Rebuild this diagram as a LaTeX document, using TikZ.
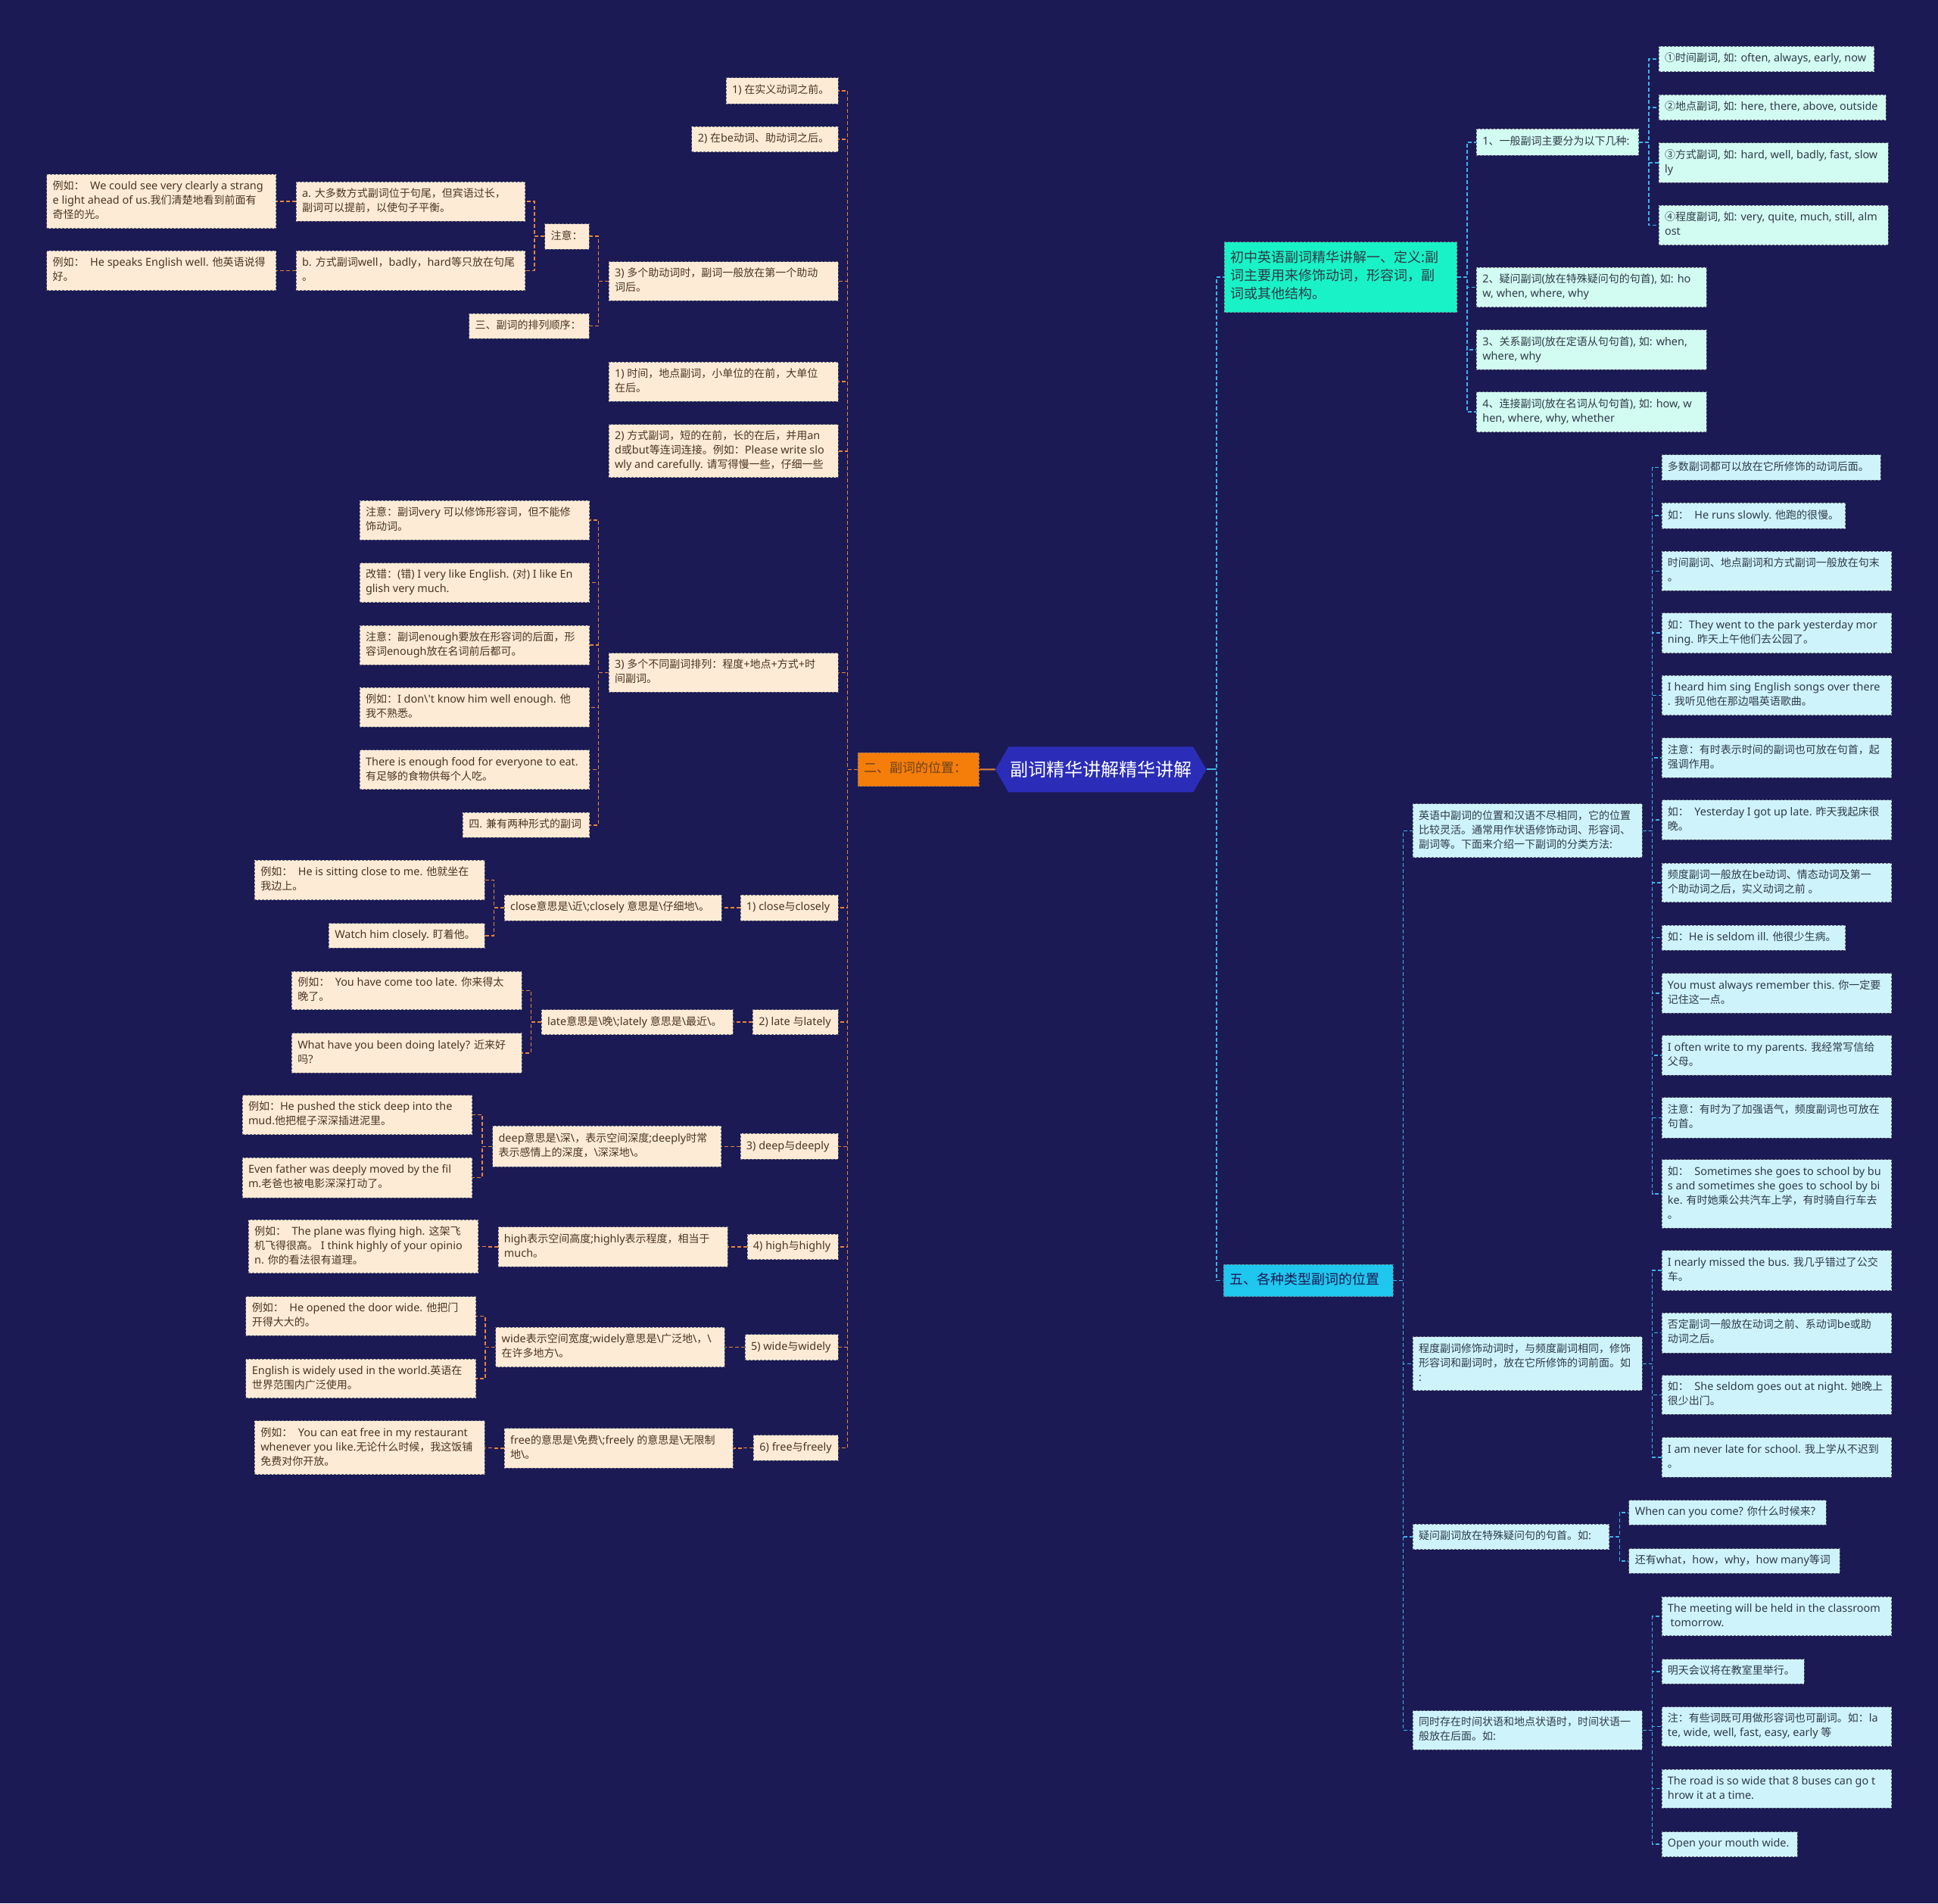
\documentclass[tikz,border=0pt]{standalone}
\usepackage{fontspec}
\setmainfont{Noto Sans}[Scale=1.03]
\newfontfamily\cjkf{Noto Sans CJK SC}
\XeTeXinterchartokenstate=1
\newXeTeXintercharclass\CJKcls
\newcount\cjkc
\def\setcls#1#2#3{\cjkc=#1\relax\loop\XeTeXcharclass\cjkc=#3\relax\ifnum\cjkc<#2\relax\advance\cjkc by 1\relax\repeat}
\setcls{1}{"D7FF}{0}
\setcls{"E000}{"FFFD}{0}
\setcls{"2460}{"24FF}{\CJKcls}
\setcls{"3000}{"303F}{\CJKcls}
\setcls{"4E00}{"9FFF}{\CJKcls}
\setcls{"FF00}{"FFEF}{\CJKcls}
\XeTeXinterchartoks 0 \CJKcls = {\cjkf}
\XeTeXinterchartoks 4095 \CJKcls = {\cjkf}
\XeTeXinterchartoks \CJKcls 0 = {\rmfamily}
\XeTeXinterchartoks \CJKcls 4095 = {\rmfamily}
\usetikzlibrary{shapes.symbols}
\definecolor{bg}{HTML}{1B1A55}
\definecolor{beige}{HTML}{FDEBD6}
\definecolor{mint}{HTML}{D2FBF1}
\definecolor{lcyan}{HTML}{CEF3FB}
\definecolor{aqua}{HTML}{19F2C6}
\definecolor{cyanm}{HTML}{1FC6EE}
\definecolor{orangem}{HTML}{F57D0A}
\definecolor{centerc}{HTML}{2B2DB9}
\definecolor{brownt}{HTML}{4A3522}
\definecolor{grayt}{HTML}{2E3B48}
\definecolor{lorange}{HTML}{E8843C}
\definecolor{lblue}{HTML}{3DB5E8}
\definecolor{boxline}{HTML}{6A6A78}
\newcommand\myb{\textbackslash}
\tikzset{
  base/.style={rectangle, draw=boxline, dash pattern=on 3pt off 2pt, line width=0.9pt,
    inner xsep=8pt, inner ysep=0pt, anchor=center, font=\fontsize{14}{19}\selectfont},
  lbox/.style={base, fill=beige, text=brownt},
  tbox/.style={base, fill=mint, text=grayt},
  bbox/.style={base, fill=lcyan, text=grayt},
  omain/.style={base, fill=orangem, text=brownt!80!orangem, draw=brownt!70, font=\fontsize{17}{22}\selectfont},
  tmain/.style={base, fill=aqua, text=grayt, font=\fontsize{18}{24}\selectfont},
  bmain/.style={base, fill=cyanm, text=bg, font=\fontsize{18}{24}\selectfont},
  lline/.style={draw=lorange, line width=1.5pt, dash pattern=on 5pt off 3pt},
  rline/.style={draw=lblue, line width=1.5pt, dash pattern=on 5pt off 3pt},
}
% name, style, x1, x2, y1, y2, text
\newcommand\bx[7]{%
  \pgfmathsetmacro\bxw{(#4-#3)*1.6327-16}%
  \pgfmathsetmacro\bxh{(#6-#5)*1.6327}%
  \node[#2, minimum height=\bxh pt] (#1) at ({(#3+#4)/2},{(#5+#6)/2})
    {\makebox[\bxw pt][l]{\begin{tabular}{@{}l@{}}#7\end{tabular}}};}
\begin{document}
\begin{tikzpicture}[x=1.6327pt,y=-1.6327pt]
\fill[bg] (0,0) rectangle (1568,1540);
\useasboundingbox (0,0) rectangle (1568,1540);

% centre
\node[signal, signal to=west and east, signal pointer angle=120, fill=centerc, text=white,
  minimum width=271pt, minimum height=60pt, inner sep=2pt, font=\fontsize{24}{28}\selectfont]
  (C) at (890.7,622.6) {副词精华讲解精华讲解};
\bx{O}{omain}{694}{792}{608.8}{636.2}{二、副词的位置：}

% left side
\bx{L1}{lbox}{587.4}{678}{63}{84}{1) 在实义动词之前。}
\bx{L2}{lbox}{559.7}{678}{102.4}{123}{2) 在be动词、助动词之后。}
\bx{L3}{lbox}{492.5}{678}{211.7}{243.4}{3) 多个助动词时，副词一般放在第一个助动\\词后。}
\bx{L3n}{lbox}{440.7}{476.5}{181}{201.5}{注意：}
\bx{L3s}{lbox}{379.5}{476.5}{253.6}{274}{三、副词的排列顺序：}
\bx{La}{lbox}{239.5}{425}{147}{179}{a. 大多数方式副词位于句尾，但宾语过长，\\副词可以提前，以使句子平衡。}
\bx{Lb}{lbox}{239.5}{425}{203}{235}{b. 方式副词well，badly，hard等只放在句尾\\。}
\bx{Lax}{lbox}{37.8}{223.4}{141}{184.8}{例如：~~We could see very clearly a strang\\e light ahead of us.我们清楚地看到前面有\\奇怪的光。}
\bx{Lbx}{lbox}{37.8}{223.4}{203}{235}{例如：~~He speaks English well. 他英语说得\\好。}
\bx{L4}{lbox}{492.5}{678}{292.8}{324.7}{1) 时间，地点副词，小单位的在前，大单位\\在后。}
\bx{L5}{lbox}{492.5}{678}{343.4}{386.4}{2) 方式副词，短的在前，长的在后，并用an\\d或but等连词连接。例如：Please write slo\\wly and carefully. 请写得慢一些，仔细一些}
\bx{L6}{lbox}{492.5}{678}{528.5}{559.8}{3) 多个不同副词排列：程度+地点+方式+时\\间副词。}
\bx{L6a}{lbox}{291}{477}{405}{436.7}{注意：副词very 可以修饰形容词，但不能修\\饰动词。}
\bx{L6b}{lbox}{291}{477}{455.4}{487.3}{改错：(错) I very like English. (对) I like En\\glish very much.}
\bx{L6c}{lbox}{291}{477}{506}{537.8}{注意：副词enough要放在形容词的后面，形\\容词enough放在名词前后都可。}
\bx{L6d}{lbox}{291}{477}{556.3}{588.2}{例如：I don\myb\textquotesingle t know him well enough. 他\\我不熟悉。}
\bx{L6e}{lbox}{291}{477}{606.8}{638.7}{There is enough food for everyone to eat.\\有足够的食物供每个人吃。}
\bx{L6f}{lbox}{374.4}{477}{657.3}{677.7}{四. 兼有两种形式的副词}
\bx{L7}{lbox}{599}{678}{724}{745}{1) close与closely}
\bx{L7m}{lbox}{408}{584}{724}{745}{close意思是\myb 近\myb;closely 意思是\myb 仔细地\myb 。}
\bx{L7a}{lbox}{206}{392}{696}{728}{例如：~~He is sitting close to me. 他就坐在\\我边上。}
\bx{L7b}{lbox}{266}{392}{747}{767}{Watch him closely. 盯着他。}
\bx{L8}{lbox}{609}{678}{817}{837}{2) late 与lately}
\bx{L8m}{lbox}{438}{593}{817}{837}{late意思是\myb 晚\myb;lately 意思是\myb 最近\myb 。}
\bx{L8a}{lbox}{236}{422}{786}{817}{例如：~~You have come too late. 你来得太\\晚了。}
\bx{L8b}{lbox}{236}{422}{836}{868}{What have you been doing lately? 近来好\\吗?}
\bx{L9}{lbox}{599}{678}{917}{938}{3) deep与deeply}
\bx{L9m}{lbox}{398.5}{583.4}{911}{944}{deep意思是\myb 深\myb，表示空间深度;deeply时常\\表示感情上的深度，\myb 深深地\myb 。}
\bx{L9a}{lbox}{196}{382}{886}{918}{例如：He pushed the stick deep into the\\mud.他把棍子深深插进泥里。}
\bx{L9b}{lbox}{196}{382}{936.6}{969}{Even father was deeply moved by the fil\\m.老爸也被电影深深打动了。}
\bx{L10}{lbox}{604.5}{678}{998.4}{1019}{4) high与highly}
\bx{L10m}{lbox}{403}{588.6}{992.6}{1024.8}{high表示空间高度;highly表示程度，相当于\\much。}
\bx{L10a}{lbox}{201}{387}{987}{1030}{例如：~~The plane was flying high. 这架飞\\机飞得很高。 I think highly of your opinio\\n. 你的看法很有道理。}
\bx{L11}{lbox}{602.7}{678}{1079.6}{1100.4}{5) wide与widely}
\bx{L11m}{lbox}{401}{586.4}{1074}{1106}{wide表示空间宽度;widely意思是\myb 广泛地\myb，\myb\\在许多地方\myb 。}
\bx{L11a}{lbox}{199}{385}{1049}{1080.6}{例如：~~He opened the door wide. 他把门\\开得大大的。}
\bx{L11b}{lbox}{199}{385}{1099.4}{1131}{English is widely used in the world.英语在\\世界范围内广泛使用。}
\bx{L12}{lbox}{609.7}{678}{1161}{1181.5}{6) free与freely}
\bx{L12m}{lbox}{408}{593}{1155.6}{1187.6}{free的意思是\myb 免费\myb;freely 的意思是\myb 无限制\\地\myb 。}
\bx{L12a}{lbox}{206}{392}{1149.6}{1193}{例如：~~You can eat free in my restaurant\\whenever you like.无论什么时候，我这饭铺\\免费对你开放。}

% right side, top
\bx{T}{tmain}{990.5}{1178.8}{195.8}{252.7}{初中英语副词精华讲解一、定义:副\\词主要用来修饰动词，形容词，副\\词或其他结构。}
\bx{T1}{tbox}{1194.6}{1325.8}{104.4}{125.6}{1、一般副词主要分为以下几种:}
\bx{T1a}{tbox}{1342}{1516.3}{37.4}{58}{①时间副词, 如: often, always, early, now}
\bx{T1b}{tbox}{1342}{1525.7}{76.6}{97.3}{②地点副词, 如: here, there, above, outside}
\bx{T1c}{tbox}{1342}{1527.6}{115.6}{147.6}{③方式副词, 如: hard, well, badly, fast, slow\\ly}
\bx{T1d}{tbox}{1342}{1527.6}{166}{198.3}{④程度副词, 如: very, quite, much, still, alm\\ost}
\bx{T2}{tbox}{1194.6}{1380.6}{216.2}{248.5}{2、疑问副词(放在特殊疑问句的句首), 如: ho\\w, when, where, why}
\bx{T3}{tbox}{1194.6}{1380.6}{266.9}{299.1}{3、关系副词(放在定语从句句首), 如: when,\\where, why}
\bx{T4}{tbox}{1194.6}{1380.6}{317}{349.5}{4、连接副词(放在名词从句句首), 如: how, w\\hen, where, why, whether}

% right side, bottom
\bx{B}{bmain}{990}{1127}{1023}{1049}{五、各种类型副词的位置}
\bx{B1}{bbox}{1143}{1328.6}{650.4}{693.8}{英语中副词的位置和汉语不尽相同，它的位置\\比较灵活。通常用作状语修饰动词、形容词、\\副词等。下面来介绍一下副词的分类方法:}
\bx{B1a}{bbox}{1344.4}{1521.5}{368}{388.6}{多数副词都可以放在它所修饰的动词后面。}
\bx{B1b}{bbox}{1344.4}{1493}{407}{427.5}{如：~~He runs slowly. 他跑的很慢。}
\bx{B1c}{bbox}{1344.4}{1530.4}{446.2}{477.8}{时间副词、地点副词和方式副词一般放在句末\\。}
\bx{B1d}{bbox}{1344.4}{1530.4}{496}{528.3}{如：They went to the park yesterday mor\\ning. 昨天上午他们去公园了。}
\bx{B1e}{bbox}{1344.4}{1530.4}{546.5}{578.7}{I heard him sing English songs over there\\. 我听见他在那边唱英语歌曲。}
\bx{B1f}{bbox}{1344.4}{1530.4}{597}{629.3}{注意：有时表示时间的副词也可放在句首，起\\强调作用。}
\bx{B1g}{bbox}{1344.4}{1530.4}{647.3}{679.4}{如：~~Yesterday I got up late. 昨天我起床很\\晚。}
\bx{B1h}{bbox}{1344.4}{1530.4}{698.3}{730}{频度副词一般放在be动词、情态动词及第一\\个助动词之后，实义动词之前 。}
\bx{B1i}{bbox}{1344.4}{1493}{748.7}{768.7}{如：He is seldom ill. 他很少生病。}
\bx{B1j}{bbox}{1344.4}{1530.4}{787.4}{819.6}{You must always remember this. 你一定要\\记住这一点。}
\bx{B1k}{bbox}{1344.4}{1530.4}{837.8}{870}{I often write to my parents. 我经常写信给\\父母。}
\bx{B1l}{bbox}{1344.4}{1530.4}{888}{920.6}{注意：有时为了加强语气，频度副词也可放在\\句首。}
\bx{B1m}{bbox}{1344.4}{1530.4}{938.3}{993.5}{如：~~Sometimes she goes to school by bu\\s and sometimes she goes to school by bi\\ke. 有时她乘公共汽车上学，有时骑自行车去\\。}
\bx{B2}{bbox}{1143}{1328.6}{1081.6}{1125}{程度副词修饰动词时，与频度副词相同，修饰\\形容词和副词时，放在它所修饰的词前面。如\\:}
\bx{B2a}{bbox}{1344.4}{1530.4}{1011.7}{1044}{I nearly missed the bus. 我几乎错过了公交\\车。}
\bx{B2b}{bbox}{1344.4}{1530.4}{1062.3}{1094.5}{否定副词一般放在动词之前、系动词be或助\\动词之后。}
\bx{B2c}{bbox}{1344.4}{1530.4}{1112.6}{1144.4}{如：~~She seldom goes out at night. 她晚上\\很少出门。}
\bx{B2d}{bbox}{1344.4}{1530.4}{1163}{1195}{I am never late for school. 我上学从不迟到\\。}
\bx{B3}{bbox}{1143}{1302}{1233}{1253.5}{疑问副词放在特殊疑问句的句首。如:}
\bx{B3a}{bbox}{1318}{1477.6}{1213.8}{1233.8}{When can you come? 你什么时候来?}
\bx{B3b}{bbox}{1318}{1488.4}{1252.9}{1272.8}{还有what，how，why，how many等词}
\bx{B4}{bbox}{1143}{1328.6}{1384.2}{1415.5}{同时存在时间状语和地点状语时，时间状语一\\般放在后面。如:}
\bx{B4a}{bbox}{1344.4}{1530.4}{1292}{1323.5}{The meeting will be held in the classroom\\~tomorrow.}
\bx{B4b}{bbox}{1344.4}{1459.8}{1342.3}{1362.2}{明天会议将在教室里举行。}
\bx{B4c}{bbox}{1344.4}{1530.4}{1380.9}{1412.9}{注：有些词既可用做形容词也可副词。如：la\\te, wide, well, fast, easy, early 等}
\bx{B4d}{bbox}{1344.4}{1530.4}{1431.4}{1462.9}{The road is so wide that 8 buses can go t\\hrow it at a time.}
\bx{B4e}{bbox}{1344.4}{1454.3}{1482}{1502.3}{Open your mouth wide.}

% connectors, centre
\draw[draw=lorange, line width=2pt] (C.west) -- (O.east);
\draw[draw=lblue, line width=2pt] (C.east) -- ++(8,0);
\foreach \c in {T,B} \draw[rline] (C.east) -- ++(8,0) |- (\c.west);

% connectors, left
\foreach \c in {L1,L2,L3,L4,L5,L6,L7,L8,L9,L10,L11,L12} \draw[lline] (O.west) -- ++(-8,0) |- (\c.east);
\foreach \c in {L3n,L3s} \draw[lline] (L3.west) -- ++(-8,0) |- (\c.east);
\foreach \c in {La,Lb} \draw[lline] (L3n.west) -- ++(-8,0) |- (\c.east);
\draw[lline] (La.west) -- ++(-8,0) |- (Lax.east);
\draw[lline] (Lb.west) -- ++(-8,0) |- (Lbx.east);
\foreach \c in {L6a,L6b,L6c,L6d,L6e,L6f} \draw[lline] (L6.west) -- ++(-8,0) |- (\c.east);
\foreach \p in {L7,L8,L9,L10,L11,L12} \draw[lline] (\p.west) -- ++(-8,0) |- (\p m.east);
\foreach \c in {L7a,L7b} \draw[lline] (L7m.west) -- ++(-8,0) |- (\c.east);
\foreach \c in {L8a,L8b} \draw[lline] (L8m.west) -- ++(-8,0) |- (\c.east);
\foreach \c in {L9a,L9b} \draw[lline] (L9m.west) -- ++(-8,0) |- (\c.east);
\draw[lline] (L10m.west) -- ++(-8,0) |- (L10a.east);
\foreach \c in {L11a,L11b} \draw[lline] (L11m.west) -- ++(-8,0) |- (\c.east);
\draw[lline] (L12m.west) -- ++(-8,0) |- (L12a.east);

% connectors, right
\foreach \c in {T1,T2,T3,T4} \draw[rline] (T.east) -- ++(8,0) |- (\c.west);
\foreach \c in {T1a,T1b,T1c,T1d} \draw[rline] (T1.east) -- ++(8,0) |- (\c.west);
\foreach \c in {B1,B2,B3,B4} \draw[rline] (B.east) -- ++(8,0) |- (\c.west);
\foreach \c in {B1a,B1b,B1c,B1d,B1e,B1f,B1g,B1h,B1i,B1j,B1k,B1l,B1m} \draw[rline] (B1.east) -- ++(8,0) |- (\c.west);
\foreach \c in {B2a,B2b,B2c,B2d} \draw[rline] (B2.east) -- ++(8,0) |- (\c.west);
\foreach \c in {B3a,B3b} \draw[rline] (B3.east) -- ++(8,0) |- (\c.west);
\foreach \c in {B4a,B4b,B4c,B4d,B4e} \draw[rline] (B4.east) -- ++(8,0) |- (\c.west);
\end{tikzpicture}
\end{document}
